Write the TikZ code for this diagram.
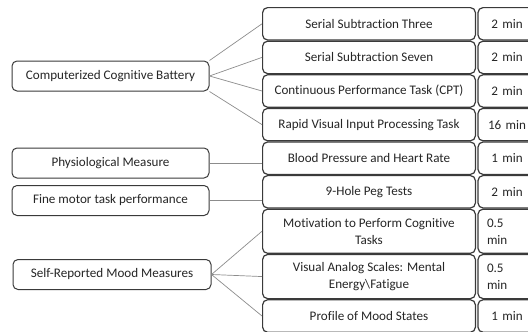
\documentclass[tikz,border=0pt]{standalone}
\usepackage{fontspec}
\setmainfont{Carlito}[Ligatures=NoCommon]
\usepackage{tikz}
\definecolor{boxline}{HTML}{3A3A3A}
\definecolor{linkgray}{HTML}{8C8C8C}
\definecolor{textgray}{HTML}{262626}

\begin{document}
\begin{tikzpicture}[x=1pt,y=-1pt,
      leftbox/.style={rectangle,draw=boxline,line width=1pt,rounded corners=5pt,
                  fill=white,minimum width=197pt,minimum height=30pt,
                  align=center,text=textgray,font=\fontsize{13.1}{15}\selectfont},
      taskbox/.style={rectangle,draw=boxline,line width=1.2pt,rounded corners=5pt,
                  fill=white,minimum width=212.8pt,minimum height=32.4pt,inner sep=1pt,
                  align=center,text=textgray,font=\fontsize{13.1}{17}\selectfont},
      taskboxtall/.style={taskbox,minimum height=44.1pt},
      timebox/.style={taskbox,minimum width=58pt,text width=40pt},
      timeboxtall/.style={timebox,minimum height=44.1pt,align=left},
      link/.style={draw=linkgray,line width=0.7pt}]
    \clip (0,0) rectangle (528,332);
    %% -- Left column: measure groups --------------------------
    \node[leftbox] (ccb)   at (110.5,76)  {Computerized Cognitive Battery};
    \node[leftbox] (phys)  at (110.5,163) {Physiological Measure};
    \node[leftbox] (motor) at (110.5,200.5) {Fine motor task performance};
    \node[leftbox,minimum width=198pt] (mood) at (112,274.5) {Self-Reported Mood Measures};
    %% -- Middle column: tasks ---------------------------------
    \node[taskbox]     (t1) at (369,23.8)   {Serial Subtraction Three};
    \node[taskbox]     (t2) at (369,57.4)   {Serial Subtraction Seven};
    \node[taskbox]     (t3) at (369,91)     {Continuous Performance Task (CPT)};
    \node[taskbox]     (t4) at (369,124.6)  {Rapid Visual Input Processing Task};
    \node[taskbox]     (t5) at (369,158.2)  {Blood Pressure and Heart Rate};
    \node[taskbox]     (t6) at (369,191.8)  {9-Hole Peg Tests};
    \node[taskboxtall] (t7) at (369,231.25) {Motivation to Perform Cognitive\\Tasks};
    \node[taskboxtall] (t8) at (369,276.55) {Visual Analog Scales: Mental\\Energy\textbackslash Fatigue};
    \node[taskbox]     (t9) at (369,316)    {Profile of Mood States};
    %% -- Right column: durations ------------------------------
    \node[timebox]     (d1) at (507,23.8)   {2 min};
    \node[timebox]     (d2) at (507,57.4)   {2 min};
    \node[timebox]     (d3) at (507,91)     {2 min};
    \node[timebox]     (d4) at (507,124.6)  {16 min};
    \node[timebox]     (d5) at (507,158.2)  {1 min};
    \node[timebox]     (d6) at (507,191.8)  {2 min};
    \node[timeboxtall] (d7) at (507,231.25) {0.5\\min};
    \node[timeboxtall] (d8) at (507,276.55) {0.5\\min};
    \node[timebox]     (d9) at (507,316)    {1 min};
    %% -- Connectors -------------------------------------------
    \draw[link] (ccb.north east) -- (t1.west);
    \draw[link] (ccb.east) -- (t2.west);
    \draw[link] (ccb.east) -- (t3.west);
    \draw[link] (ccb.south east) -- (t4.west);
    \draw[link] (phys.east) -- (phys.east -| t5.west);
    \draw[link] (motor.east) -- (motor.east -| t6.west);
    \draw[link] (mood.east) -- (t7.west);
    \draw[link] (mood.east) -- (t8.west);
    \draw[link] (mood.east) -- (t9.west);
\end{tikzpicture}
\end{document}
